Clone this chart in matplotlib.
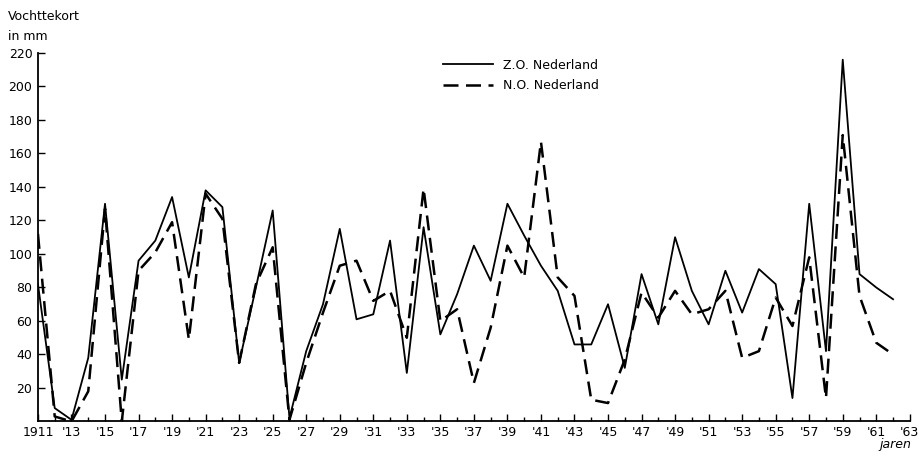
import numpy as np
import matplotlib.pyplot as plt

# Vochttekort per jaar (mm)
jaren = np.arange(1911, 1963)
zo_nederland = [82, 8, 1, 38, 130, 25, 96, 108, 134, 86, 138, 128, 35, 80, 126, 2,
                42, 70, 115, 61, 64, 108, 29, 116, 52, 76, 105, 84, 130, 111, 93, 78,
                46, 46, 70, 32, 88, 58, 110, 78, 58, 90, 65, 91, 82, 14, 130, 42, 216,
                88, 80, 73]
no_nederland = [112, 3, 0, 18, 127, 0, 90, 101, 119, 49, 136, 121, 35, 82, 104, 1,
                35, 65, 93, 96, 72, 78, 50, 139, 60, 67, 23, 56, 105, 86, 167, 86,
                75, 13, 11, 37, 77, 62, 78, 64, 67, 78, 38, 42, 74, 57, 98, 14, 171,
                75, 47, 40]

y_ticks = np.arange(20, 221, 20)
x_ticks = np.arange(1911, 1964, 2)
x_labels = ['1911'] + ["'%02d" % (j % 100) for j in x_ticks[1:]]

fig = plt.figure(figsize=(9.19, 4.58), dpi=100)
ax = fig.add_axes([0.0413, 0.0797, 0.9487, 0.8046])

ax.plot(jaren, zo_nederland, color='black', lw=1.3, label='Z.O. Nederland')
ax.plot(jaren, no_nederland, color='black', lw=1.8, dashes=(6, 3),
        label='N.O. Nederland')

ax.set_xlim(1911, 1963)
ax.set_ylim(0, 220)
for side in ['top', 'right']:
    ax.spines[side].set_visible(False)
ax.spines['left'].set_linewidth(1.3)
ax.spines['bottom'].set_linewidth(1.3)

ax.set_yticks(y_ticks)
ax.set_xticks(x_ticks)
ax.set_xticklabels(x_labels)
ax.set_xticks(jaren, minor=True)
ax.tick_params(axis='both', direction='in', labelsize=9, length=5, width=1)
ax.tick_params(axis='x', which='minor', direction='in', length=3, width=1)
ax.tick_params(axis='y', pad=4)

fig.text(0.009, 0.965, 'Vochttekort', fontsize=9, ha='left', va='center')
fig.text(0.009, 0.92, 'in mm', fontsize=9, ha='left', va='center')
fig.text(0.992, 0.015, 'jaren', fontsize=9, style='italic', ha='right',
         va='bottom')

leg = ax.legend(loc='upper left', bbox_to_anchor=(0.452, 1.015), frameon=False,
                fontsize=9, handlelength=4, labelspacing=0.6)

fig.savefig('out.png', dpi=100)
